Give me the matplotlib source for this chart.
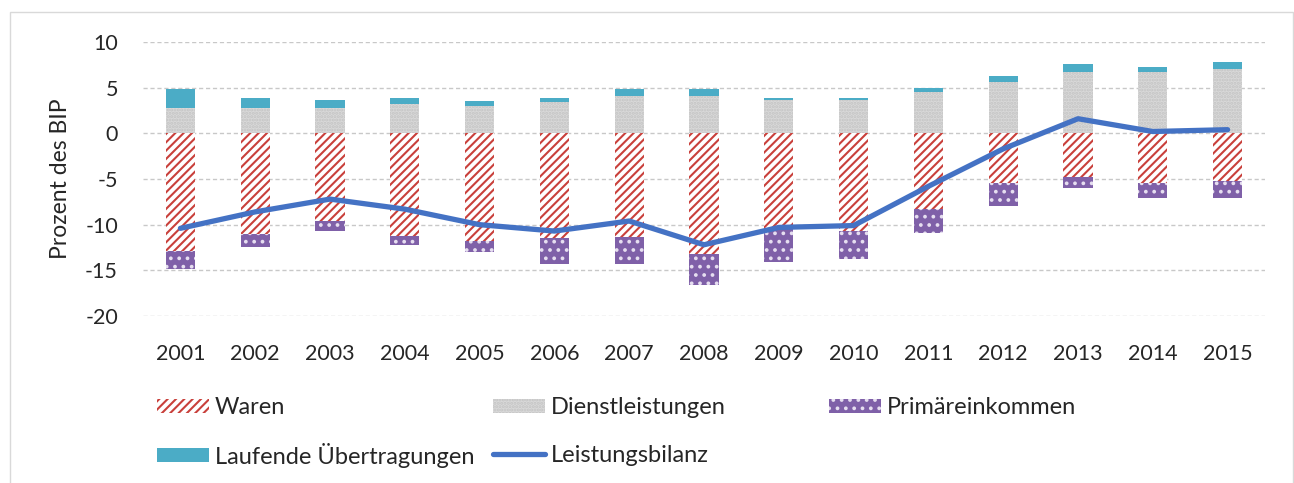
import matplotlib.pyplot as plt
import matplotlib.patches as mpatches
import numpy as np

plt.rcParams['font.family'] = ['Lato', 'DejaVu Sans']
plt.rcParams['hatch.linewidth'] = 1.5
plt.rcParams['axes.unicode_minus'] = False

# Leistungsbilanz und Komponenten, Prozent des BIP
years = ['2001', '2002', '2003', '2004', '2005', '2006', '2007', '2008',
         '2009', '2010', '2011', '2012', '2013', '2014', '2015']
waren = [-12.9, -11.0, -9.6, -11.2, -11.8, -11.5, -11.4, -13.2,
         -10.4, -10.7, -8.3, -5.4, -4.8, -5.4, -5.2]
dienst = [2.8, 2.8, 2.8, 3.2, 3.0, 3.4, 4.1, 4.1, 3.6, 3.6, 4.5, 5.6, 6.7, 6.7, 7.0]
primaer = [-1.9, -1.4, -1.1, -1.0, -1.2, -2.8, -2.9, -3.4,
           -3.7, -3.1, -2.6, -2.6, -1.2, -1.7, -1.9]
laufende = [2.0, 1.1, 0.9, 0.7, 0.5, 0.5, 0.7, 0.7, 0.3, 0.3, 0.5, 0.7, 0.9, 0.6, 0.8]
bilanz = [-10.4, -8.6, -7.2, -8.3, -10.0, -10.7, -9.6, -12.2,
          -10.3, -10.1, -5.8, -1.7, 1.6, 0.2, 0.4]

W, H = 1294, 483
fig = plt.figure(figsize=(W / 100, H / 100), dpi=100)
ax = fig.add_axes([143 / W, 1 - 316 / H, (1265 - 143) / W, (316 - 42) / H])

x = np.arange(len(years))
bw = 0.39

b_waren = ax.bar(x, waren, bw, color='white', edgecolor='#C9403B', hatch='////', lw=0, zorder=2)
b_dienst = ax.bar(x, dienst, bw, color='#D9D9D9', edgecolor='#C4C4C4', hatch='.....', lw=0, zorder=2)
b_primaer = ax.bar(x, primaer, bw, bottom=waren, color='#7F60A8', edgecolor='#E6DEF0',
                   hatch='..', lw=0, zorder=2)
b_lauf = ax.bar(x, laufende, bw, bottom=dienst, color='#4BACC6', lw=0, zorder=2)
line, = ax.plot(x, bilanz, color='#4472C4', lw=3.8, solid_capstyle='round',
                solid_joinstyle='round', zorder=3)

ax.set_xlim(-0.5, len(years) - 0.5)
ax.set_ylim(-20, 10)
ax.set_yticks(range(-20, 11, 5))
ax.set_xticks(x)
ax.set_xticklabels(years)
ax.tick_params(axis='both', length=0, labelsize=15.5, labelcolor='#262626')
ax.tick_params(axis='y', pad=18)
ax.tick_params(axis='x', pad=20)
ax.grid(axis='y', color='#C8C8C8', lw=1, linestyle=(0, (3, 2)), zorder=0)
for s in ax.spines.values():
    s.set_visible(False)
ax.set_ylabel('Prozent des BIP', fontsize=16.5, color='#262626', labelpad=10)

# Legende: feste Spalten wie im Original
entries = [
    (b_waren[0], 'Waren', 157, 408),
    (b_dienst[0], 'Dienstleistungen', 493, 408),
    (b_primaer[0], 'Primäreinkommen', 829, 408),
    (b_lauf[0], 'Laufende Übertragungen', 157, 455),
    (line, 'Leistungsbilanz', 493, 455),
]
for h, lab, px, py in entries:
    leg = fig.legend([h], [lab], loc='center left', bbox_to_anchor=(px / W, 1 - py / H),
                     frameon=False, fontsize=17, handlelength=2.2, handletextpad=0.25,
                     borderpad=0, borderaxespad=0, handleheight=0.55)
    for t in leg.get_texts():
        t.set_color('#262626')

fig.patches.append(mpatches.Rectangle((10 / W, -0.01), (1293 - 10) / W, 1 - 12 / H + 0.01,
                                      transform=fig.transFigure, fill=False,
                                      edgecolor='#D9D9D9', lw=1))

fig.savefig('out.png', dpi=100)
